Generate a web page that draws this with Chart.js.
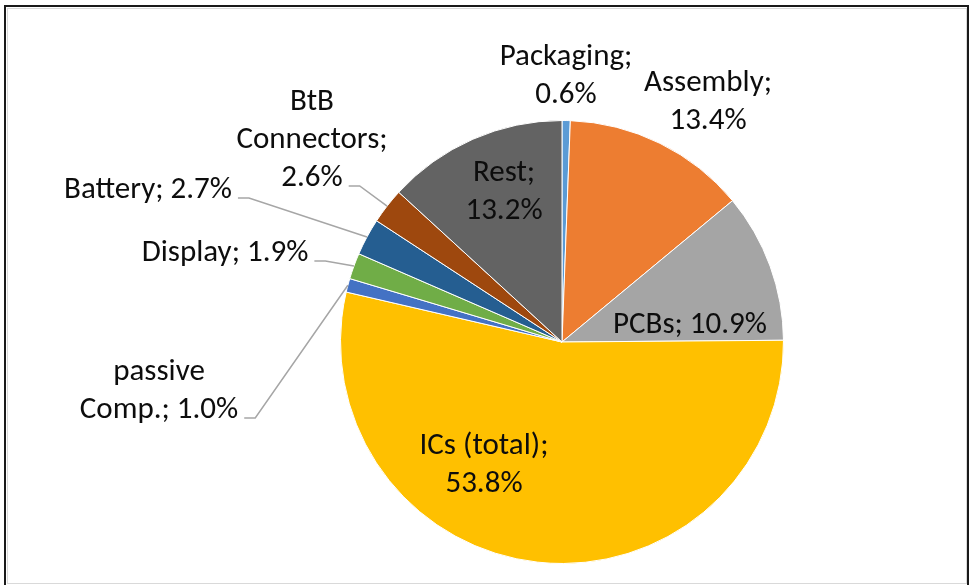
<!DOCTYPE html>
<html>
<head>
<meta charset="utf-8">
<script src="https://cdn.jsdelivr.net/npm/chart.js@4"></script>
<style>
  html, body { margin: 0; padding: 0; background: #fff; }
  #wrap { position: relative; width: 969px; height: 585px; overflow: hidden; background: #fff; }
  #c { position: absolute; left: 0; top: 0; }
  #frameOuter { position: absolute; left: 4px; top: 5px; width: 961px; height: 600px;
    border-top: 2px solid #1a1a1a; border-left: 2px solid #1a1a1a; border-right: 2px solid #1a1a1a; pointer-events: none; }
  #frameInner { position: absolute; left: 7px; top: 8px; width: 958px; height: 574px;
    border: 1px solid #d9d9d9; border-right-width: 2px; pointer-events: none; }
</style>
</head>
<body>
<div id="wrap">
  <canvas id="c" width="969" height="585"></canvas>
  <div id="frameInner"></div>
  <div id="frameOuter"></div>
</div>
<script>
// ---- data ----
const categories = ['Packaging', 'Assembly', 'PCBs', 'ICs (total)', 'passive Comp.', 'Display', 'Battery', 'BtB Connectors', 'Rest'];
const shares = [0.6, 13.4, 10.9, 53.8, 1.0, 1.9, 2.7, 2.6, 13.2];
const colors = ['#5B9BD5', '#ED7D31', '#A5A5A5', '#FFC000', '#4472C4', '#70AD47', '#255E91', '#9E480E', '#636363'];

// ---- label layout (offsets from pie centre, px) ----
const labelOffset = [[4, -266], [146, -240], [128, -17], [-78, 123], [-403, 49], [-337, -89], [-414, -152], [-250, -202], [-58, -150]];
const labelWrapEm = [5, 5, 99, 6, 5.5, 99, 99, 5.5, 4];
const hasLeader = [false, false, false, false, true, true, true, true, false];

const FONT_SIZE = 31;
const LINE_H = 38;
const FONT = FONT_SIZE + 'px Carlito, Calibri, Lato, sans-serif';

function wrapText(ctx, text, maxW) {
  const words = text.split(' ');
  const lines = [];
  let cur = '';
  words.forEach(w => {
    const t = cur ? cur + ' ' + w : w;
    if (cur && ctx.measureText(t).width > maxW) { lines.push(cur); cur = w; }
    else cur = t;
  });
  if (cur) lines.push(cur);
  return lines;
}

const labelPlugin = {
  id: 'sliceLabels',
  afterDatasetsDraw(chart) {
    const ctx = chart.ctx;
    const meta = chart.getDatasetMeta(0);
    ctx.save();
    ctx.font = FONT;
    ctx.textAlign = 'center';
    ctx.textBaseline = 'middle';
    meta.data.forEach((arc, i) => {
      const p = arc.getProps(['x', 'y', 'startAngle', 'endAngle', 'outerRadius'], true);
      const mid = (p.startAngle + p.endAngle) / 2;
      const text = categories[i] + '; ' + shares[i].toFixed(1) + '%';
      const lines = wrapText(ctx, text, labelWrapEm[i] * FONT_SIZE);
      const cx = p.x + labelOffset[i][0];
      const cy = p.y + labelOffset[i][1];
      const top = cy - (lines.length - 1) * LINE_H / 2;
      ctx.fillStyle = '#0d0d0d';
      lines.forEach((l, k) => ctx.fillText(l, cx, top + k * LINE_H));
      if (hasLeader[i]) {
        const last = lines[lines.length - 1];
        const w = ctx.measureText(last).width;
        const ax = cx + w / 2 + 6;
        const ay = top + (lines.length - 1) * LINE_H + 8;
        const ex = p.x + Math.cos(mid) * p.outerRadius;
        const ey = p.y + Math.sin(mid) * p.outerRadius;
        ctx.strokeStyle = '#a6a6a6';
        ctx.lineWidth = 1.5;
        ctx.beginPath();
        ctx.moveTo(ax, ay);
        ctx.lineTo(ax + 11, ay);
        ctx.lineTo(ex, ey);
        ctx.stroke();
      }
    });
    ctx.restore();
  }
};

new Chart(document.getElementById('c'), {
  type: 'pie',
  data: {
    labels: categories,
    datasets: [{
      data: shares,
      backgroundColor: colors,
      borderColor: '#ffffff',
      borderWidth: 1
    }]
  },
  options: {
    responsive: false,
    animation: false,
    layout: { padding: { top: 120, bottom: 21, left: 340, right: 185 } },
    plugins: { legend: { display: false }, tooltip: { enabled: false } }
  },
  plugins: [labelPlugin]
});
</script>
</body>
</html>
